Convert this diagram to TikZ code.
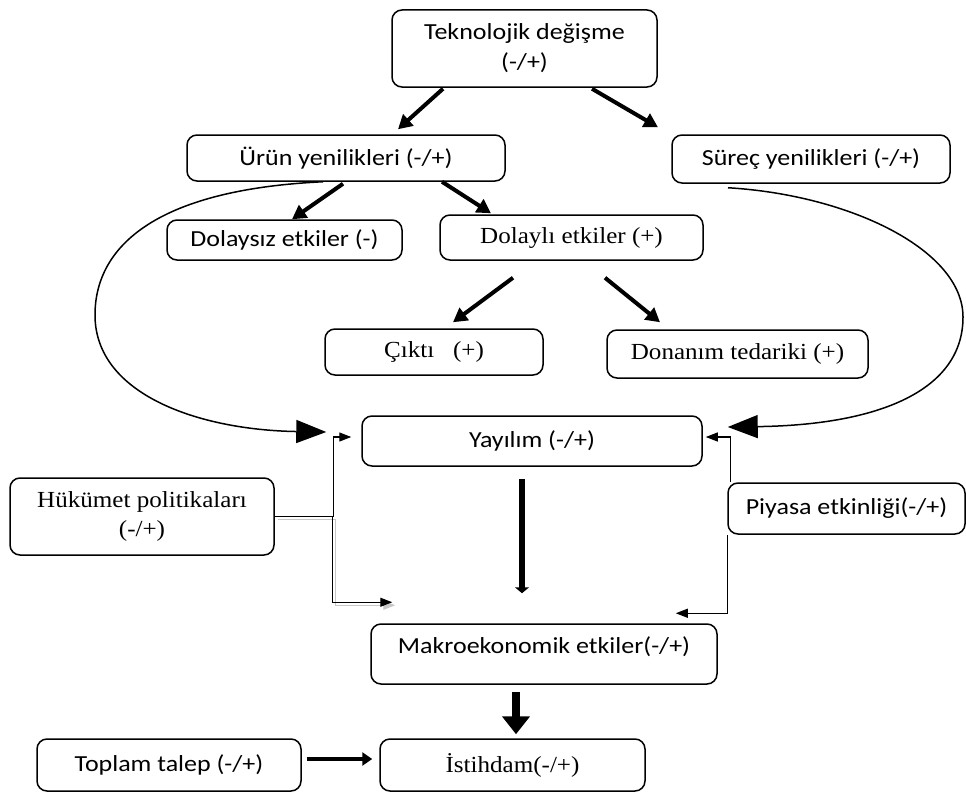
\documentclass[tikz,border=0pt]{standalone}
\usepackage{fontspec}
\setmainfont{Carlito}
\newfontfamily\calfont[FakeStretch=1.13]{Carlito}
\newfontfamily\timfont[FakeStretch=1.09]{Liberation Serif}
\usetikzlibrary{arrows.meta,calc}
\begin{document}
\begin{tikzpicture}[x=1pt,y=-1pt,
  box/.style={draw, line width=1.5pt, rounded corners=10pt, inner sep=0pt, align=center},
  cal/.style={font=\calfont\fontsize{23}{30}\selectfont},
  tim/.style={font=\timfont\fontsize{23}{29}\selectfont},
  bigarrow/.style={line width=4pt, -{Triangle[length=14pt,width=15pt]}},
  thinarrow/.style={line width=1.2pt, -{Triangle[length=12pt,width=9pt]}},
  curvearrow/.style={line width=1.5pt, -{Triangle[length=30pt,width=23pt]}}
]
\useasboundingbox (0,0) rectangle (966,792);

% boxes
\node[box,cal,minimum width=265pt,minimum height=77pt] (tek) at (524.5,48.5) {Teknolojik değişme\\(-/+)};
\node[box,cal,minimum width=318pt,minimum height=46pt] (urun) at (346,158) {Ürün yenilikleri (-/+)};
\node[box,cal,minimum width=278pt,minimum height=48pt] (surec) at (811,159) {Süreç yenilikleri (-/+)};
\node[box,cal,minimum width=235pt,minimum height=40pt] (dsiz) at (284.5,240) {Dolaysız etkiler (-)};
\node[box,tim,minimum width=263pt,minimum height=45pt] (dli) at (571.5,237.5) {Dolaylı etkiler (+)};
\node[box,tim,minimum width=218pt,minimum height=46pt] (cikti) at (434,352) {Çıktı\ \ \ (+)};
\node[box,tim,minimum width=261pt,minimum height=48pt] (don) at (737.5,354) {Donanım tedariki (+)};
\node[box,cal,minimum width=340pt,minimum height=50pt] (yay) at (532,441) {Yayılım (-/+)};
\node[box,tim,minimum width=264pt,minimum height=77pt] (huk) at (142,516.5) {Hükümet politikaları\\(-/+)};
\node[box,cal,minimum width=237pt,minimum height=51pt] (piy) at (846.5,508.5) {Piyasa etkinliği(-/+)};
\node[box,minimum width=346pt,minimum height=60pt] (mak) at (544,654) {};
\node[cal] (makt) at (544,647) {Makroekonomik etkiler(-/+)};
\node[box,cal,minimum width=264pt,minimum height=52pt] (top) at (169,765) {Toplam talep (-/+)};
\node[box,tim,minimum width=265pt,minimum height=52pt] (ist) at (512.5,765) {İstihdam(-/+)};

% thick arrows
\draw[bigarrow] ($(tek.south)+(-81.5,1)$) -- ($(urun.north)+(52,-5)$);
\draw[bigarrow] ($(tek.south)+(67.5,1)$) -- ($(surec.north)+(-153,-7)$);
\draw[bigarrow] ($(urun.south)+(-3,2)$) -- ($(dsiz.north)+(7.5,0)$);
\draw[bigarrow] ($(urun.south)+(96,0)$) -- ($(dli.north)+(-80.5,-1)$);
\draw[bigarrow] ($(dli.south)+(-58.5,17)$) -- ($(cikti.north)+(19,-6)$);
\draw[bigarrow] ($(dli.south)+(33.5,17)$) -- ($(don.north)+(-77.5,-7)$);
\draw[line width=5.5pt, -{Triangle[length=6pt,width=14pt]}] ($(yay.south)+(-10,12)$) -- ($(mak.north)+(-22,-30)$);
\draw[line width=8pt, -{Triangle[length=18pt,width=27pt]}] ($(mak.south)+(-28,7)$) -- ($(ist.north)+(3.5,-4)$);
\draw[line width=4.5pt, -{Triangle[length=10pt,width=13pt]}] ($(top.east)+(5,-6)$) -- ($(ist.west)+(-7,-6)$);

% big curved connectors
\draw[curvearrow] ($(urun.south)+(-23,0)$) .. controls (150,190) and (95,250) .. (95,315)
  .. controls (95,395) and (200,430) .. ($(yay.west)+(-35,-9)$);
\draw[curvearrow] ($(surec.south)+(-83,4)$) .. controls (850,195) and (963,250) .. (963,317)
  .. controls (963,390) and (880,425) .. ($(yay.east)+(25,-14)$);

% Hükümet politikaları connectors (with faint shadow)
\draw[line width=1.2pt, black!22, -{Triangle[length=12pt,width=9pt]}] ($(huk.east)+(3,3)$) -- ++(58,0) |- ($(mak.north west)+(25,-18)$);
\coordinate (hj) at ($(huk.east)+(58,0)$);
\draw[thinarrow] (huk.east) -- ($(hj)+(1,0)$) |- ($(yay.west)+(-10,-4)$);
\draw[thinarrow] (hj) |- ($(mak.north west)+(22,-21)$);

% Piyasa etkinliği connectors
\draw[thinarrow] ($(piy.north west)+(3,0)$) |- ($(yay.east)+(3,-4)$);
\draw[thinarrow] (piy.south west) |- ($(mak.north east)+(-42,-10)$);
\end{tikzpicture}
\end{document}
